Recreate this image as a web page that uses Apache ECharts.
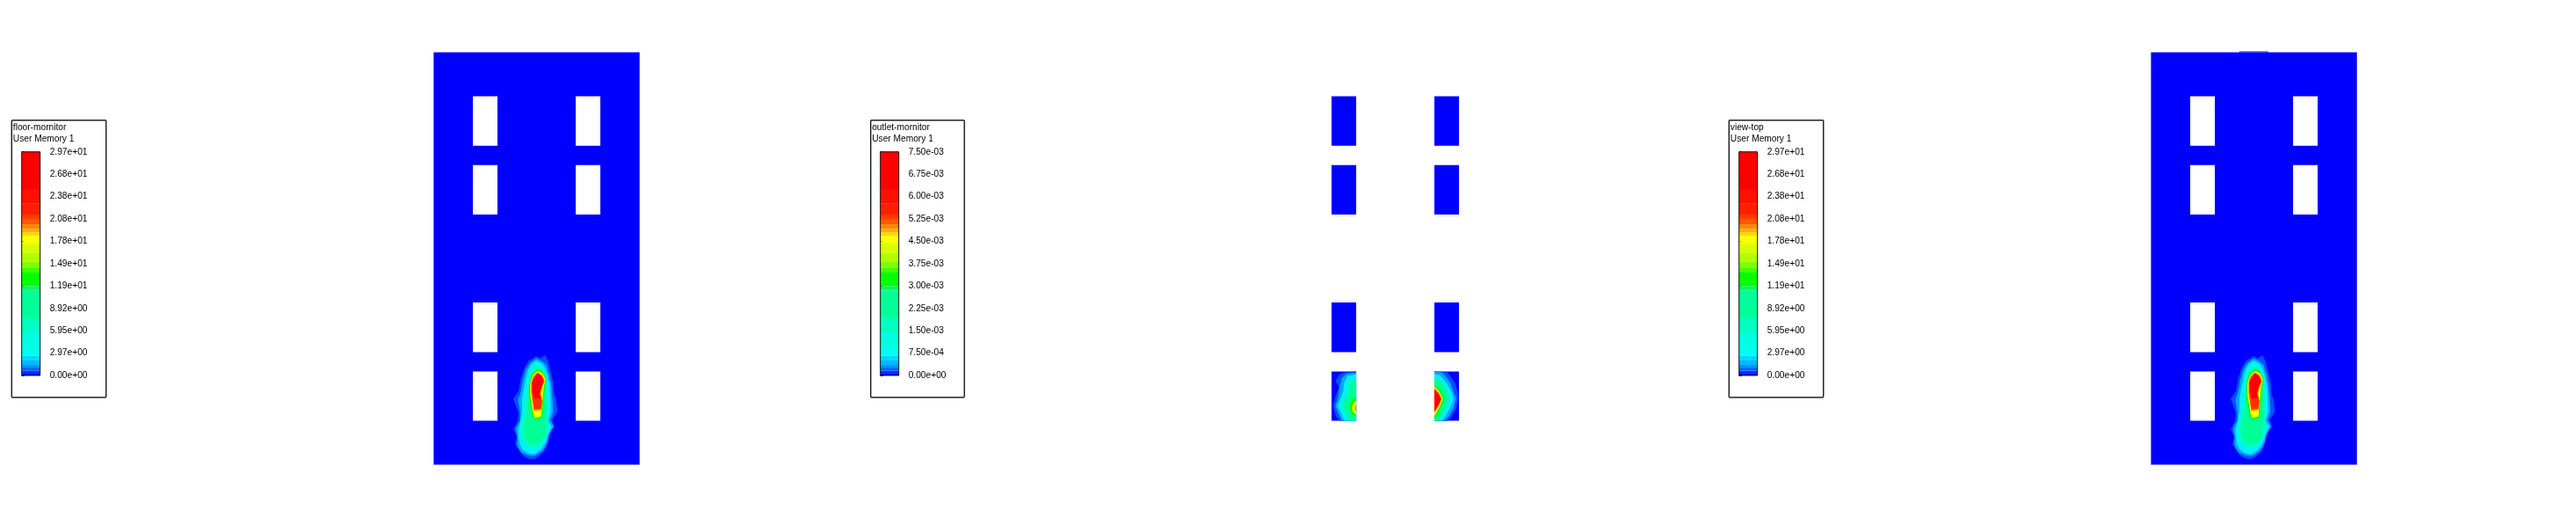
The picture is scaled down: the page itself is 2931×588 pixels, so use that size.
<!DOCTYPE html>
<html>
<head>
<meta charset="utf-8">
<style>html,body{margin:0;padding:0;background:#fff}#c{width:2931px;height:588px}</style>
<script src="https://cdn.jsdelivr.net/npm/echarts@6/dist/echarts.min.js"></script>
</head>
<body>
<div id="c"></div>
<script>
const floorTitle = 'floor-mornitor';
const outletTitle = 'outlet-mornitor';
const topTitle = 'view-top';
const quantity = 'User Memory 1';
const floorTicks = ['0.00e+00','2.97e+00','5.95e+00','8.92e+00','1.19e+01','1.49e+01','1.78e+01','2.08e+01','2.38e+01','2.68e+01','2.97e+01'];
const outletTicks = ['0.00e+00','7.50e-04','1.50e-03','2.25e-03','3.00e-03','3.75e-03','4.50e-03','5.25e-03','6.00e-03','6.75e-03','7.50e-03'];

const bandTops = [0.008,0.021,0.035,0.047,0.067,0.087,0.13,0.193,0.256,0.38,0.40,0.42,0.46,0.48,0.51,0.547,0.586,0.60,0.625,0.64,0.655,0.676,0.70,0.716,0.77,0.834,1];
const bandColors = ['#0000ff','#0030ff','#0060ff','#0090ff','#00b8ff','#00d8ff','#00fff0','#00ffe0','#00ffc0','#00ff98','#00ff60','#00ff00','#00ff00','#40ff00','#80ff00','#b0ff00','#d8ff00','#f0ff00','#ffff00','#ffd800','#ffb000','#ff8800','#ff5800','#ff3c00','#ff2000','#ff1000','#ff0000'];

const buildingSize = [703, 1407];
const outline = [[0,0],[703,0],[703,1407],[0,1407]];
const topBump = [[301,0],[301,-3],[401,-3],[401,0]];
const openingColumns = [[134,218],[485,569]];
const openingRows = [[150,319],[385,554],[854,1023],[1089,1257]];

const plumeEdge = [[350,1037],[365,1044],[380,1034],[390,1052],[400,1092],[408,1122],[412,1167],[418,1182],[423,1227],[405,1254],[412,1277],[395,1302],[390,1332],[380,1357],[360,1377],[342,1389],[325,1387],[305,1377],[290,1357],[278,1337],[285,1312],[272,1287],[285,1262],[290,1232],[272,1182],[290,1157],[298,1112],[310,1077],[325,1052],[335,1047]];
const plumeSky = [[350,1044],[370,1054],[385,1067],[393,1097],[400,1127],[405,1172],[408,1227],[398,1254],[410,1277],[395,1304],[388,1332],[372,1360],[345,1377],[322,1376],[300,1366],[285,1342],[285,1312],[280,1282],[295,1257],[295,1232],[288,1187],[298,1157],[305,1117],[315,1082],[330,1060]];
const plumeCyan = [[350,1052],[370,1062],[380,1077],[388,1102],[395,1132],[398,1172],[400,1227],[390,1257],[403,1277],[390,1304],[382,1332],[365,1357],[342,1372],[322,1368],[302,1355],[292,1330],[288,1292],[296,1257],[302,1222],[302,1182],[308,1147],[315,1112],[323,1082],[335,1062]];
const plumeAqua = [[352,1064],[370,1077],[380,1102],[385,1132],[390,1172],[390,1227],[392,1262],[392,1292],[378,1327],[355,1350],[328,1352],[308,1335],[298,1307],[302,1267],[312,1227],[315,1182],[320,1142],[325,1107],[338,1077]];
const plumeSpring = [[352,1077],[370,1084],[378,1107],[380,1142],[385,1182],[383,1227],[382,1267],[380,1307],[360,1335],[330,1338],[310,1315],[306,1285],[312,1257],[318,1222],[320,1182],[323,1142],[330,1102]];
const plumeGreen = [[355,1082],[373,1089],[385,1117],[380,1142],[376,1177],[373,1217],[370,1247],[345,1254],[337,1242],[332,1207],[326,1172],[326,1137],[334,1100]];
const plumeYellow = [[355,1087],[372,1095],[382,1117],[376,1142],[372,1182],[369,1217],[367,1242],[345,1248],[340,1235],[335,1202],[329,1167],[329,1132],[338,1102]];
const plumeOrange = [[355,1092],[371,1102],[379,1120],[371,1142],[365,1164],[371,1190],[369,1220],[342,1224],[339,1200],[333,1162],[333,1127],[340,1106]];
const plumeScarlet = [[355,1094],[370,1105],[377,1122],[369,1142],[363,1164],[369,1190],[366,1216],[343,1218],[340,1197],[335,1160],[335,1127],[342,1109]];
const plumeRed = [[355,1096],[369,1107],[375,1122],[367,1142],[361,1164],[366,1180],[345,1182],[338,1160],[337,1127],[344,1111]];

const leftEdge = [[218,1089],[179,1092],[161,1100],[147,1122],[159,1142],[147,1177],[139,1207],[149,1242],[161,1257],[218,1257]];
const leftSky = [[218,1094],[184,1097],[169,1112],[161,1142],[157,1177],[147,1207],[159,1237],[169,1257],[218,1257]];
const leftCyan = [[218,1099],[189,1104],[177,1127],[174,1157],[164,1182],[154,1207],[167,1232],[177,1257],[218,1257]];
const leftSpring = [[218,1114],[197,1122],[189,1152],[181,1182],[169,1207],[181,1232],[191,1257],[218,1257]];
const leftGreen = [[218,1177],[204,1182],[196,1202],[199,1227],[207,1237],[218,1242]];
const leftYellow = [[218,1189],[209,1197],[203,1212],[207,1228],[218,1236]];
const leftOrange = [[218,1202],[213,1210],[214,1222],[218,1226]];

const rightEdge = [[485,1089],[529,1092],[554,1127],[564,1157],[567,1182],[559,1217],[544,1242],[529,1257],[485,1257]];
const rightSky = [[485,1089],[514,1094],[539,1127],[551,1162],[559,1182],[549,1217],[534,1242],[519,1257],[485,1257]];
const rightCyan = [[485,1098],[504,1102],[529,1132],[544,1162],[549,1182],[537,1217],[519,1247],[509,1257],[485,1257]];
const rightSpring = [[485,1110],[509,1122],[529,1152],[534,1182],[524,1217],[509,1242],[499,1257],[485,1257]];
const rightGreen = [[485,1134],[504,1152],[519,1182],[509,1207],[494,1242],[485,1252]];
const rightYellow = [[485,1140],[501,1157],[514,1182],[504,1207],[491,1232],[485,1242]];
const rightOrange = [[485,1146],[500,1162],[510,1182],[501,1203],[488,1226],[485,1230]];
const rightRed = [[485,1152],[499,1167],[507,1184],[499,1202],[487,1222],[485,1224]];

const BLUE = '#0000ff';
const plumeLayers = [[plumeEdge,'#0050ff'],[plumeSky,'#00a8ff'],[plumeCyan,'#00f0ff'],[plumeAqua,'#00ffc4'],[plumeSpring,'#00ff96'],[plumeGreen,'#00ff00'],[plumeYellow,'#ffff00'],[plumeOrange,'#ff8000'],[plumeScarlet,'#ff3000'],[plumeRed,'#ff0000']];
const outletLayers = [[leftEdge,'#0050ff'],[leftSky,'#00a8ff'],[leftCyan,'#00f0ff'],[leftSpring,'#00ff96'],[leftGreen,'#00ff00'],[leftYellow,'#ffff00'],[leftOrange,'#ff9000'],
  [rightEdge,'#0050ff'],[rightSky,'#00a8ff'],[rightCyan,'#00f0ff'],[rightSpring,'#00ff96'],[rightGreen,'#00ff00'],[rightYellow,'#ffff00'],[rightOrange,'#ff5000'],[rightRed,'#ff0000']];

const grid = [], xAxis = [], yAxis = [], series = [], title = [], graphic = [];
const font = 'Liberation Sans';

function rectPoints(xs, ys) { return [[xs[0],ys[0]],[xs[1],ys[0]],[xs[1],ys[1]],[xs[0],ys[1]]]; }

function poly(idx, points, fill) {
  series.push({
    type: 'custom', coordinateSystem: 'cartesian2d', xAxisIndex: idx, yAxisIndex: idx,
    silent: true, animation: false, data: points, encode: {x: 0, y: 1},
    renderItem: (p, api) => p.dataIndex !== 0 ? null : {
      type: 'polygon', shape: {points: points.map(q => api.coord(q))}, style: {fill: fill}
    }
  });
}

function panel(left, kind) {
  const idx = grid.length;
  grid.push({left: left, top: 59.4, width: buildingSize[0] / 3, height: buildingSize[1] / 3});
  xAxis.push({gridIndex: idx, type: 'value', min: 0, max: buildingSize[0], show: false});
  yAxis.push({gridIndex: idx, type: 'value', min: 0, max: buildingSize[1], inverse: true, show: false});
  const openings = [];
  openingRows.forEach(r => openingColumns.forEach(c => openings.push(rectPoints(c, r))));
  if (kind === 'outlet') {
    openings.forEach(o => poly(idx, o, BLUE));
    outletLayers.forEach(l => poly(idx, l[0], l[1]));
  } else {
    poly(idx, outline, BLUE);
    if (kind === 'top') poly(idx, topBump, BLUE);
    plumeLayers.forEach(l => poly(idx, l[0], l[1]));
    openings.forEach(o => poly(idx, o, '#ffffff'));
  }
}

function legend(boxLeft, boxWidth, barLeft, name, ticks) {
  graphic.push({type: 'rect', silent: true, z: 0,
    shape: {x: boxLeft, y: 136.7, width: boxWidth, height: 315.3, r: 1},
    style: {fill: '#fff', stroke: '#222', lineWidth: 1.5}});
  title.push({text: name + '\n' + quantity, left: boxLeft + 1.5, top: 139,
    padding: 0, textStyle: {fontFamily: font, fontSize: 10.2, fontWeight: 'normal', color: '#000', lineHeight: 13}});
  const idx = grid.length;
  grid.push({left: barLeft, top: 172.7, width: 21, height: 254.3});
  xAxis.push({gridIndex: idx, type: 'value', min: 0, max: 1, show: false});
  yAxis.push({gridIndex: idx, type: 'value', min: 0, max: 1, interval: 0.1, position: 'right',
    splitLine: {show: false}, axisLine: {show: false},
    axisTick: {show: true, length: 3, lineStyle: {color: '#000', width: 1}},
    axisLabel: {show: true, margin: 11, fontFamily: font, fontSize: 10.2, color: '#000',
      formatter: v => ticks[Math.round(v * 10)]}});
  series.push({
    type: 'custom', coordinateSystem: 'cartesian2d', xAxisIndex: idx, yAxisIndex: idx,
    silent: true, animation: false,
    data: bandTops.map((t, i) => [i ? bandTops[i - 1] : 0, t, i]),
    encode: {y: [0, 1]},
    renderItem: (p, api) => {
      const a = api.coord([0, api.value(0)]), b = api.coord([1, api.value(1)]);
      return {type: 'rect', shape: {x: a[0], y: b[1], width: b[0] - a[0], height: a[1] - b[1]},
        style: {fill: bandColors[api.value(2)]}};
    }
  });
  series.push({
    type: 'custom', coordinateSystem: 'cartesian2d', xAxisIndex: idx, yAxisIndex: idx,
    silent: true, animation: false, z: 5, data: [[0, 1]], encode: {y: [0, 1]},
    renderItem: (p, api) => {
      const a = api.coord([0, 0]), b = api.coord([1, 1]);
      return {type: 'rect', shape: {x: a[0], y: b[1], width: b[0] - a[0], height: a[1] - b[1]},
        style: {fill: 'none', stroke: '#111', lineWidth: 1}};
    }
  });
}

legend(13.3, 107.4, 24.7, floorTitle, floorTicks);
legend(990.7, 106.6, 1001.7, outletTitle, outletTicks);
legend(1967.3, 107.4, 1978.7, topTitle, floorTicks);
panel(493.4, 'floor');
panel(1470.4, 'outlet');
panel(2447.4, 'top');

const chart = echarts.init(document.getElementById('c'), null, {renderer: 'canvas'});
chart.setOption({animation: false, backgroundColor: '#fff', title, grid, xAxis, yAxis, series, graphic: {elements: graphic}, tooltip: {show: false}});
</script>
</body>
</html>
